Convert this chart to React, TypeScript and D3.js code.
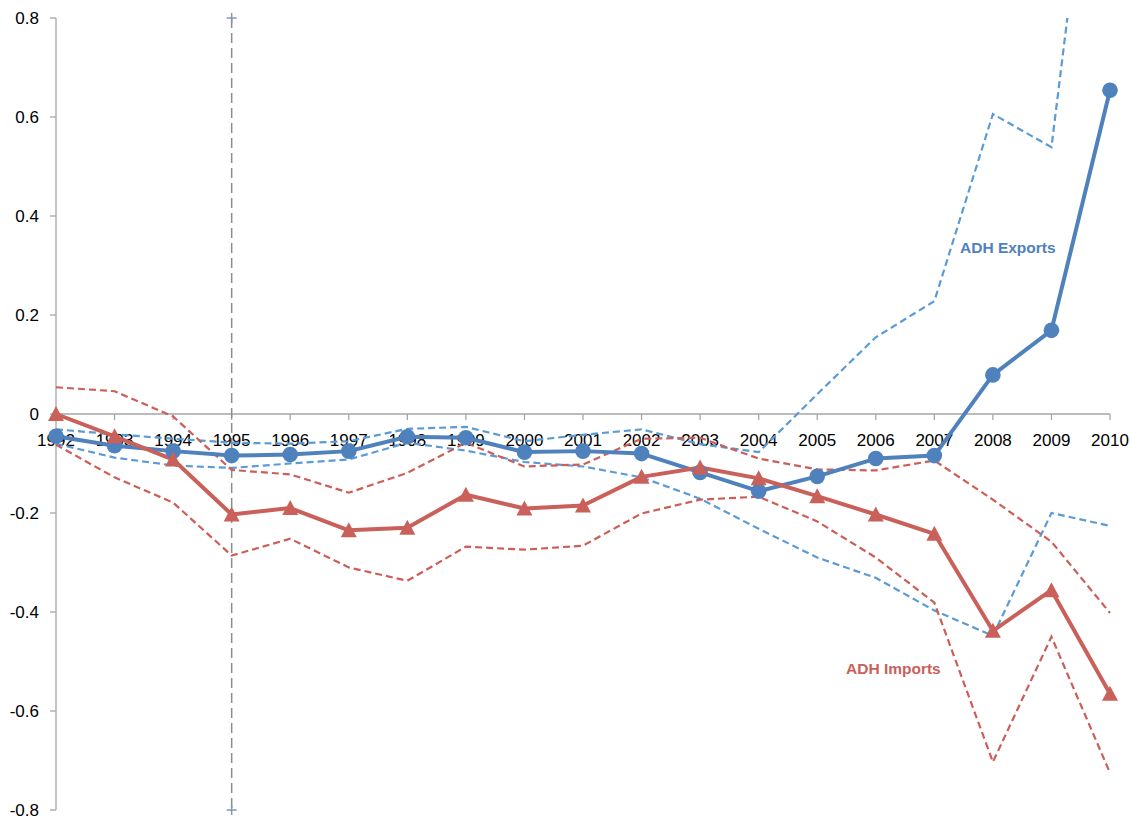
import React from "react";
import * as d3 from "d3";

const years = ["1992","1993","1994","1995","1996","1997","1998","1999","2000","2001","2002","2003","2004","2005","2006","2007","2008","2009","2010"];
const yTicks = [0.8, 0.6, 0.4, 0.2, 0, -0.2, -0.4, -0.6, -0.8];
const yTickLabels = ["0.8", "0.6", "0.4", "0.2", "0", "-0.2", "-0.4", "-0.6", "-0.8"];

const exportsEst = [-0.045,-0.064,-0.075,-0.084,-0.082,-0.075,-0.046,-0.048,-0.077,-0.075,-0.080,-0.118,-0.156,-0.126,-0.090,-0.084,0.079,0.169,0.654];
const exportsUpper = [-0.031,-0.041,-0.05,-0.058,-0.06,-0.055,-0.03,-0.026,-0.055,-0.042,-0.031,-0.061,-0.077,0.04,0.155,0.228,0.606,0.539,1.5];
const exportsLower = [-0.06,-0.088,-0.104,-0.109,-0.1,-0.092,-0.058,-0.074,-0.097,-0.106,-0.128,-0.171,-0.232,-0.29,-0.331,-0.397,-0.448,-0.2,-0.226];

const importsEst = [0,-0.045,-0.092,-0.203,-0.19,-0.235,-0.23,-0.163,-0.191,-0.185,-0.127,-0.108,-0.13,-0.166,-0.203,-0.242,-0.438,-0.356,-0.565];
const importsUpper = [0.054,0.046,-0.005,-0.113,-0.122,-0.159,-0.119,-0.058,-0.106,-0.102,-0.05,-0.048,-0.09,-0.112,-0.114,-0.094,-0.173,-0.258,-0.402];
const importsLower = [-0.062,-0.128,-0.179,-0.286,-0.252,-0.31,-0.337,-0.268,-0.274,-0.266,-0.201,-0.173,-0.167,-0.217,-0.29,-0.381,-0.703,-0.45,-0.725];

const markerYear = "1995";

const BLUE = "#4f81bd";
const BLUE_D = "#5b9bd5";
const RED = "#c9605a";
const RED_D = "#cc5e57";
const AXIS = "#a6a6a6";
const FONT = "'Liberation Sans', Arial, sans-serif";

export default function App() {
  const W = 1130, H = 818;
  const x = d3.scalePoint<string>().domain(years).range([56, 1110]);
  const y = d3.scaleLinear().domain([-0.8, 0.8]).range([810, 18]);
  const line = d3.line<number>().x((_, i) => x(years[i]) as number).y((d) => y(d));

  const x0 = x(years[0]) as number;
  const x1 = x(years[years.length - 1]) as number;
  const xm = x(markerYear) as number;

  return (
    <svg width={W} height={H} style={{ position: "absolute", left: 0, top: 0, background: "#fff" }}>
      <defs>
        <clipPath id="plot">
          <rect x={0} y={y(0.8)} width={W} height={y(-0.8) - y(0.8)} />
        </clipPath>
      </defs>
      {/* Y axis */}
      <line x1={x0} x2={x0} y1={y(0.8)} y2={y(-0.8)} stroke={AXIS} strokeWidth={1.3} />
      {yTicks.map((t, i) => (
        <g key={t}>
          <line x1={x0 - 6} x2={x0} y1={y(t)} y2={y(t)} stroke={AXIS} strokeWidth={1.3} />
          <text x={39} y={y(t)} dy="0.35em" textAnchor="end" fontFamily={FONT} fontSize={17} fill="#000">
            {yTickLabels[i]}
          </text>
        </g>
      ))}
      {/* X axis */}
      <line x1={x0} x2={x1} y1={y(0)} y2={y(0)} stroke={AXIS} strokeWidth={1.3} />
      {years.map((yr) => (
        <g key={yr}>
          <line x1={x(yr)} x2={x(yr)} y1={y(0)} y2={y(0) + 6} stroke={AXIS} strokeWidth={1.3} />
          <text x={x(yr)} y={446} textAnchor="middle" fontFamily={FONT} fontSize={17} fill="#000">
            {yr}
          </text>
        </g>
      ))}
      {/* vertical marker line */}
      <line x1={xm} x2={xm} y1={y(0.8)} y2={y(-0.8)} stroke="#8c8c8c" strokeWidth={1.5} strokeDasharray="10,5" />
      {[0.8, -0.8].map((v) => (
        <g key={v} stroke="#8497b0" strokeWidth={1.5}>
          <line x1={xm - 5} x2={xm + 5} y1={y(v)} y2={y(v)} />
          <line x1={xm} x2={xm} y1={y(v) - 5} y2={y(v) + 5} />
        </g>
      ))}
      <g clipPath="url(#plot)" fill="none">
        <path d={line(exportsUpper) || ""} stroke={BLUE_D} strokeWidth={2.2} strokeDasharray="7,4" />
        <path d={line(exportsLower) || ""} stroke={BLUE_D} strokeWidth={2.2} strokeDasharray="7,4" />
        <path d={line(importsUpper) || ""} stroke={RED_D} strokeWidth={2.2} strokeDasharray="7,4" />
        <path d={line(importsLower) || ""} stroke={RED_D} strokeWidth={2.2} strokeDasharray="7,4" />
        <path d={line(exportsEst) || ""} stroke={BLUE} strokeWidth={4} strokeLinejoin="round" />
        <path d={line(importsEst) || ""} stroke={RED} strokeWidth={4} strokeLinejoin="round" />
      </g>
      {exportsEst.map((v, i) => (
        <circle key={"c" + i} cx={x(years[i])} cy={y(v)} r={7.8} fill={BLUE} />
      ))}
      {importsEst.map((v, i) => {
        const cx = x(years[i]) as number;
        const cy = y(v);
        return (
          <path key={"t" + i} d={`M${cx},${cy - 8} L${cx + 8},${cy + 7} L${cx - 8},${cy + 7} Z`} fill={RED} />
        );
      })}
      <text x={960} y={253} fontFamily={FONT} fontWeight="bold" fontSize={15.5} fill={BLUE}>ADH Exports</text>
      <text x={846} y={674} fontFamily={FONT} fontWeight="bold" fontSize={15.5} fill={RED}>ADH Imports</text>
    </svg>
  );
}
